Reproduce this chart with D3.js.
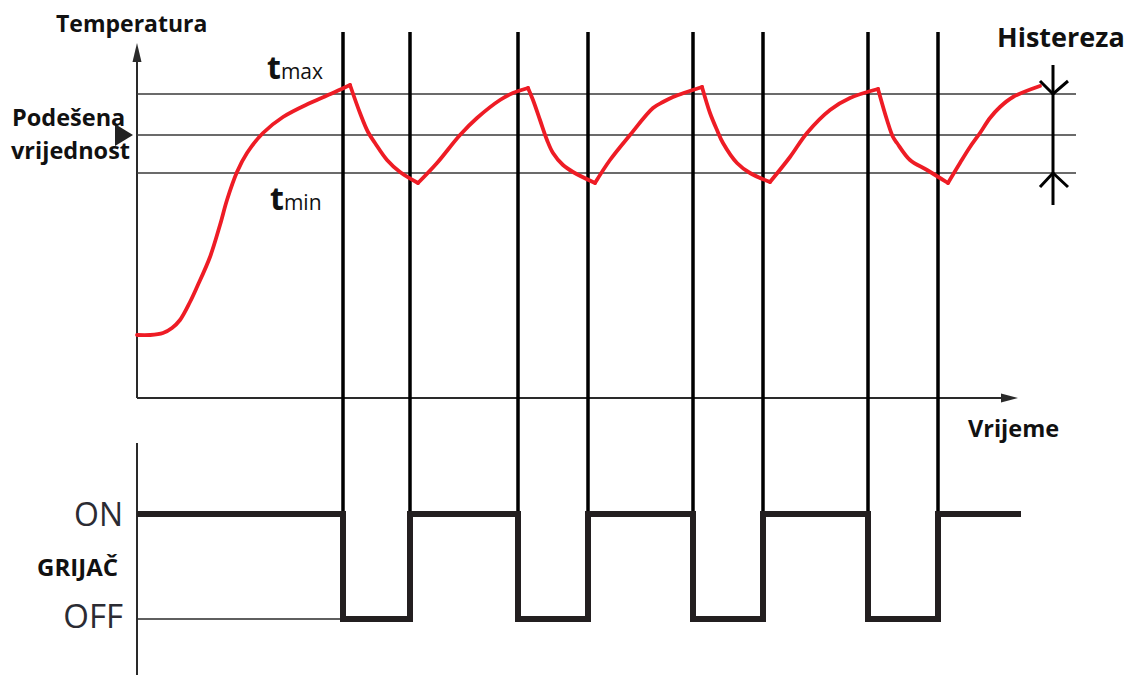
<!DOCTYPE html>
<html>
<head>
<meta charset="utf-8">
<script src="https://cdn.jsdelivr.net/npm/d3@7"></script>
<style>
	body { margin: 0; background: #fff; }
	svg { display: block; }
	.lbl { font-family: 'Open Sans', sans-serif; font-weight: 700; fill: #111; }
	.state { font-family: 'Open Sans', sans-serif; font-weight: 400; fill: #2b2b33; }
</style>
</head>
<body>
<div id="chart"></div>
<script>
// Temperature curve (time units, temperature units)
const time = [0, 1.3, 2.6, 3.5, 4.3, 5.3, 6.0, 7.3, 8.3, 9.0, 10.0, 11.0, 12.6, 14.6, 17.3, 19.8, 21.3,
	22.3, 23.1, 23.8, 25.0, 26.3, 28.1,
	30.0, 32.3, 34.0, 36.3, 37.6, 39.1,
	39.6, 40.3, 41.0, 41.6, 42.6, 43.6, 45.8,
	47.3, 49.3, 51.6, 52.6, 53.6, 56.5,
	57.3, 58.0, 58.6, 60.0, 61.3, 63.3,
	65.3, 67.0, 69.3, 71.3, 74.1,
	75.0, 75.6, 76.0, 77.3, 79.0, 81.1,
	82.3, 83.3, 84.3, 85.3, 86.3, 87.6, 90.3];
const temperature = [6.3, 6.3, 6.5, 7.0, 7.8, 9.6, 11.1, 14.1, 17.3, 19.8, 22.6, 24.5, 26.5, 28.1, 29.5, 30.6, 31.3,
	28.5, 26.6, 25.5, 23.8, 22.6, 21.5,
	23.5, 26.3, 28.0, 29.8, 30.5, 31.0,
	29.8, 27.8, 25.8, 24.5, 23.3, 22.6, 21.5,
	23.8, 26.3, 29.0, 29.6, 30.1, 31.1,
	28.5, 26.8, 25.5, 23.5, 22.5, 21.6,
	24.1, 26.5, 28.8, 30.0, 30.9,
	27.8, 26.1, 25.5, 23.8, 22.8, 21.5,
	23.5, 25.1, 26.5, 28.0, 29.1, 30.1, 31.2];

// Thresholds
const levelNames = ['tmax', 'set', 'tmin'];
const levelValues = [30.4, 26.3, 22.5];

// Heater switching
const heaterOffTimes = [20.6, 38.1, 55.6, 73.1];
const heaterOnTimes = [27.3, 45.1, 62.6, 80.1];
const heaterEnd = 88.4;

const width = 1126, height = 675;

const svg = d3.select('#chart').append('svg')
	.attr('width', width)
	.attr('height', height);

// Scales
const x = d3.scaleLinear().domain([0, 88]).range([137, 1017]);
const y = d3.scaleLinear().domain([0, 35.5]).range([398, 43]);
const yHeat = d3.scaleLinear().domain([0, 1]).range([619, 514]);

const ink = '#2a2a2a';

// Top axes with arrows
svg.append('line').attr('x1', x(0)).attr('x2', x(0)).attr('y1', 398).attr('y2', 58)
	.attr('stroke', ink).attr('stroke-width', 2);
svg.append('path').attr('d', `M${x(0)},43 L${x(0) - 4.5},62 L${x(0) + 4.5},62 Z`).attr('fill', ink);
svg.append('line').attr('x1', x(0)).attr('x2', 1004).attr('y1', 398).attr('y2', 398)
	.attr('stroke', ink).attr('stroke-width', 2);
svg.append('path').attr('d', `M1018,398 L1001,393.5 L1001,402.5 Z`).attr('fill', ink);

// Threshold lines
svg.selectAll('.level')
	.data(levelValues)
	.enter().append('line')
	.attr('class', 'level')
	.attr('x1', x(0)).attr('x2', 1076)
	.attr('y1', d => y(d)).attr('y2', d => y(d))
	.attr('stroke', '#3a3a3a').attr('stroke-width', 1.5);

// Set value marker
const setY = y(levelValues[1]);
svg.append('path').attr('d', `M115,${setY - 11} L115,${setY + 11} L133,${setY} Z`).attr('fill', '#222');

// Heater axis
svg.append('line').attr('x1', x(0)).attr('x2', x(0)).attr('y1', 443).attr('y2', 675)
	.attr('stroke', ink).attr('stroke-width', 2);
svg.append('line').attr('x1', x(0)).attr('x2', x(heaterOffTimes[0]) - 3)
	.attr('y1', yHeat(0)).attr('y2', yHeat(0))
	.attr('stroke', ink).attr('stroke-width', 1.5);

// Switching guide lines
const switches = heaterOffTimes.concat(heaterOnTimes);
svg.selectAll('.switch')
	.data(switches)
	.enter().append('line')
	.attr('class', 'switch')
	.attr('x1', d => x(d)).attr('x2', d => x(d))
	.attr('y1', 32).attr('y2', yHeat(1))
	.attr('stroke', '#000').attr('stroke-width', 3.5);

// Heater state steps
const steps = [{ t: 0, s: 1 }];
heaterOffTimes.forEach((t, i) => {
	steps.push({ t: t, s: 0 });
	steps.push({ t: heaterOnTimes[i], s: 1 });
});
steps.push({ t: heaterEnd, s: 1 });

svg.append('path')
	.datum(steps)
	.attr('fill', 'none')
	.attr('stroke', '#231f20')
	.attr('stroke-width', 6)
	.attr('stroke-linejoin', 'miter')
	.attr('stroke-linecap', 'butt')
	.attr('d', d3.line().x(d => x(d.t)).y(d => yHeat(d.s)).curve(d3.curveStepAfter));

// Temperature curve, split at the turning points so the corners stay sharp
const pts = time.map((t, i) => ({ t: t, v: temperature[i] }));
const segments = [];
let seg = [pts[0]];
for (let i = 1; i < pts.length; i++) {
	seg.push(pts[i]);
	const next = pts[i + 1];
	if (next && (pts[i].v - pts[i - 1].v) * (next.v - pts[i].v) < 0 && i > 5) {
		segments.push(seg);
		seg = [pts[i]];
	}
}
segments.push(seg);

const tempLine = d3.line()
	.x(d => x(d.t))
	.y(d => y(d.v))
	.curve(d3.curveCatmullRom.alpha(0.5));

svg.selectAll('.temp')
	.data(segments)
	.enter().append('path')
	.attr('class', 'temp')
	.attr('fill', 'none')
	.attr('stroke', '#ee1c25')
	.attr('stroke-width', 3.8)
	.attr('stroke-linejoin', 'round')
	.attr('stroke-linecap', 'round')
	.attr('d', tempLine);

// Hysteresis marker
const hx = 1053;
const hTop = y(levelValues[0]), hBot = y(levelValues[2]);
svg.append('line').attr('x1', hx).attr('x2', hx).attr('y1', 65).attr('y2', 205)
	.attr('stroke', '#000').attr('stroke-width', 3);
svg.append('path').attr('d', `M${hx - 13},${hTop - 13} L${hx},${hTop} L${hx + 15},${hTop - 13}`)
	.attr('fill', 'none').attr('stroke', '#000').attr('stroke-width', 3);
svg.append('path').attr('d', `M${hx - 13},${hBot + 14} L${hx},${hBot} L${hx + 15},${hBot + 14}`)
	.attr('fill', 'none').attr('stroke', '#000').attr('stroke-width', 3);

// Labels
svg.append('text').attr('class', 'lbl').attr('x', 56).attr('y', 32).attr('font-size', 23).text('Temperatura');
svg.append('text').attr('class', 'lbl').attr('x', 12).attr('y', 126).attr('font-size', 23.5).text('Podešena');
svg.append('text').attr('class', 'lbl').attr('x', 11).attr('y', 159).attr('font-size', 23.5).text('vrijednost');
svg.append('text').attr('class', 'lbl').attr('x', 997).attr('y', 47).attr('font-size', 27).text('Histereza');
svg.append('text').attr('class', 'lbl').attr('x', 968).attr('y', 437).attr('font-size', 23.5).text('Vrijeme');

const tmax = svg.append('text').attr('class', 'lbl').attr('x', 267).attr('y', 79);
tmax.append('tspan').attr('font-size', 32).text('t');
tmax.append('tspan').attr('font-size', 21).attr('font-weight', 400).text('max');
const tmin = svg.append('text').attr('class', 'lbl').attr('x', 270).attr('y', 210);
tmin.append('tspan').attr('font-size', 32).text('t');
tmin.append('tspan').attr('font-size', 21).attr('font-weight', 400).text('min');

svg.append('text').attr('class', 'state').attr('x', 123).attr('y', 526)
	.attr('text-anchor', 'end').attr('font-size', 32).text('ON');
svg.append('text').attr('class', 'state').attr('x', 123).attr('y', 628)
	.attr('text-anchor', 'end').attr('font-size', 33).text('OFF');
svg.append('text').attr('class', 'lbl').attr('x', 118).attr('y', 576)
	.attr('text-anchor', 'end').attr('font-size', 24).text('GRIJAČ');
</script>
</body>
</html>
